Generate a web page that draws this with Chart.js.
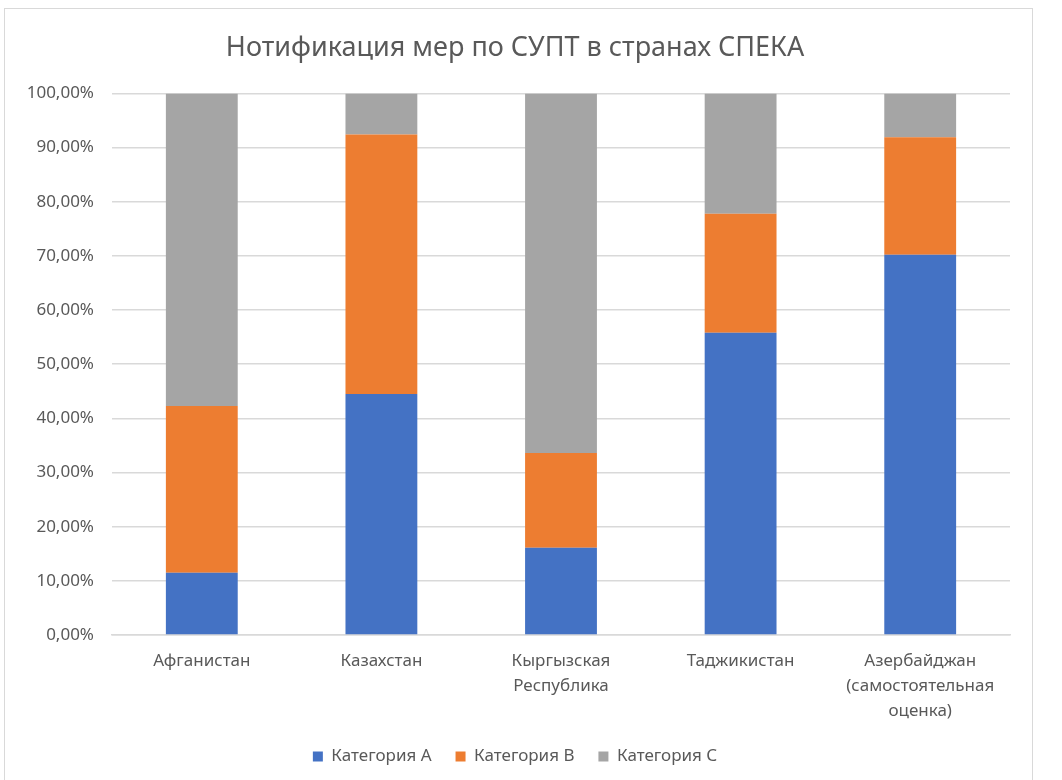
<!DOCTYPE html>
<html>
<head>
<meta charset="utf-8">
<script src="https://cdn.jsdelivr.net/npm/chart.js@4"></script>
<style>
  body { margin: 0; background: #fff; }
  #wrap { position: relative; width: 1062px; height: 780px; overflow: hidden; }
  #frame { position: absolute; left: 4px; top: 8px; width: 1027px; height: 800px; border: 1px solid #d9d9d9; }
  #chart { position: absolute; left: 0; top: 0; }
</style>
</head>
<body>
<div id="wrap">
  <div id="frame"></div>
  <canvas id="chart" width="1062" height="780"></canvas>
</div>
<script>
// ----------- Data -----------
const countries = [
  'Афганистан',
  'Казахстан',
  ['Кыргызская', 'Республика'],
  'Таджикистан',
  ['Азербайджан', '(самостоятельная', 'оценка)']
];
const categoryA = [11.5, 44.5, 16.1, 55.8, 70.2];
const categoryB = [30.8, 47.9, 17.5, 22.0, 21.7];
const categoryC = [57.7, 7.6, 66.4, 22.2, 8.1];
const yTicks = [0, 10, 20, 30, 40, 50, 60, 70, 80, 90, 100];

const textColor = '#595959';
const fontFamily = '"Noto Sans", "Open Sans", sans-serif';

new Chart(document.getElementById('chart').getContext('2d'), {
  type: 'bar',
  data: {
    labels: countries,
    datasets: [
      { label: 'Категория А', data: categoryA, backgroundColor: '#4472C4' },
      { label: 'Категория В', data: categoryB, backgroundColor: '#ED7D31' },
      { label: 'Категория С', data: categoryC, backgroundColor: '#A5A5A5' }
    ]
  },
  options: {
    responsive: false,
    animation: false,
    layout: { padding: { left: 20, right: 52, top: 0, bottom: 5 } },
    datasets: { bar: { categoryPercentage: 1, barPercentage: 0.4 } },
    scales: {
      x: {
        stacked: true,
        grid: { display: false },
        border: { display: true, color: '#d9d9d9', width: 1.5 },
        ticks: { color: textColor, font: { family: fontFamily, size: 17, lineHeight: 1.47 }, padding: 6, maxRotation: 0, autoSkip: false },
        afterFit: s => { s.height = 89; }
      },
      y: {
        stacked: true,
        min: 0,
        max: 100,
        afterBuildTicks: s => { s.ticks = yTicks.map(v => ({ value: v })); },
        grid: { color: '#d9d9d9', lineWidth: 1.5, drawTicks: false },
        border: { display: false },
        ticks: {
          color: textColor,
          font: { family: fontFamily, size: 17 },
          padding: 18,
          callback: v => v.toFixed(2).replace('.', ',') + '%'
        },
        afterFit: s => { s.width = 92; }
      }
    },
    plugins: {
      title: {
        display: true,
        text: 'Нотификация мер по СУПТ в странах СПЕКА',
        color: textColor,
        font: { family: fontFamily, size: 27, weight: 'normal' },
        padding: { top: 32, bottom: 29 }
      },
      legend: {
        position: 'bottom',
        labels: { color: textColor, font: { family: fontFamily, size: 17 }, boxWidth: 10, boxHeight: 10, padding: 24 }
      },
      tooltip: { enabled: false }
    }
  }
});
</script>
</body>
</html>
